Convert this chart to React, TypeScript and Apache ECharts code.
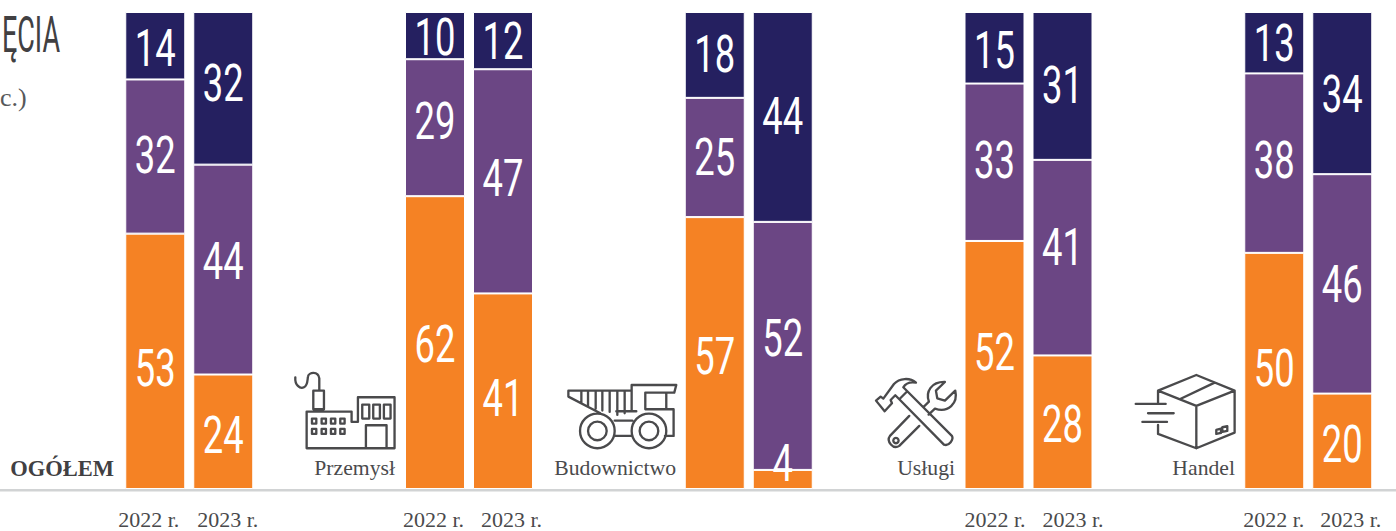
import React, { useEffect, useRef } from "react";
import * as echarts from "echarts";

const years = ["2022 r.", "2023 r."];
const sectors = ["OGÓŁEM", "Przemysł", "Budownictwo", "Usługi", "Handel"];
// [2022, 2023] per sector
const orangeValues = [[53, 24], [62, 41], [57, 4], [52, 28], [50, 20]];
const purpleValues = [[32, 44], [29, 47], [25, 52], [33, 41], [38, 46]];
const navyValues = [[14, 32], [10, 12], [18, 44], [15, 31], [13, 34]];

const COLORS = { orange: "#f58224", purple: "#6b4684", navy: "#252060", ink: "#4a4a4c" };
const GROUP_PITCH = 279.75;
const GRID_LEFT = 121.25;
const GRID_TOP = 12;
const GRID_H = 477;

// pixel nudges of the value labels from the segment centres: [orange, purple, navy]
const labelNudge = [
  [[7, -1.5, 2.5], [3, -8.5, -5]],
  [[1.5, -6.5, 1.5], [6.5, -3.5, 0.5]],
  [[3, -0.5, -1], [-16, -8, -1]],
  [[-13, -2, 2.5], [2, -11, -1]],
  [[-3, -3, 0.5], [2.5, 0, 1]],
];
// horizontal shift of the year labels per sector: [2022, 2023]
const yearShift = [[-6.5, 4.5], [-1.5, 8.5], [0, 0], [0.5, 10.5], [-0.5, 8.5]];
const labelFonts = { fontFamily: "Roboto", fontSize: 52 };

const factory =
  "M46 82 C44 105 60 118 72 112 C84 106 82 90 84 80 C86 66 115 62 118 85 L118 122 " +
  "M100 122 H132 V178 H100 Z " +
  "M80 185 H215 V216 H234 V142 H344 V295 H80 Z " +
  "M247 164 H268 V206 H247 Z M280 164 H300 V206 H280 Z M312 164 H332 V206 H312 Z " +
  "M258 226 H320 V295 H258 Z " +
  "M96 206 H109 V221 H96 Z M125 206 H138 V221 H125 Z M153 206 H166 V221 H153 Z M181 206 H194 V221 H181 Z " +
  "M96 237 H109 V252 H96 Z M125 237 H138 V252 H125 Z M153 237 H166 V252 H153 Z M181 237 H194 V252 H181 Z";
const truck =
  "M866 122 H1056 M866 122 V140 L962 190 " +
  "M905 122 V158 M925 122 V168 M948 122 V176 M968 122 V182 M990 122 V186 M1013 122 V195 M1035 122 V190 M1056 122 V182 " +
  "M1056 122 V105 H1190 L1184 128 H1097 V178 H1160 V128 M1097 178 H1182 V258 H1156 " +
  "M1010 184 H1070 M1005 212 H1058 M1005 258 H1058 " +
  "M1005 243 A52 52 0 1 1 901 243 A52 52 0 1 1 1005 243 Z " +
  "M981 243 A28 28 0 1 1 925 243 A28 28 0 1 1 981 243 Z " +
  "M1160 243 A52 52 0 1 1 1056 243 A52 52 0 1 1 1160 243 Z " +
  "M1136 243 A28 28 0 1 1 1080 243 A28 28 0 1 1 1136 243 Z";
const tools =
  "M48 152 L62 140 L70 146 L102 102 C118 84 150 82 168 98 C150 95 136 102 130 112 L142 124 L118 148 L106 136 L92 150 L96 160 L74 184 Z " +
  "M142 124 L276 258 C282 268 268 290 252 284 L118 148 " +
  "M148 198 L90 258 C78 274 100 300 118 288 L178 228 " +
  "M190 172 L207 155 C196 125 215 95 255 96 L228 122 L232 145 L255 152 L286 122 C295 160 265 190 225 176 L206 194 " +
  "M108 264 A8 8 0 1 1 107.9 264 Z";
const box =
  "M895 122 L1010 75 L1125 122 L1010 168 Z M960 148 L1065 98 " +
  "M1125 122 V248 L1010 295 V168 M895 122 V158 M895 225 V252 L1010 295 " +
  "M828 162 H918 M865 190 H942 M848 216 H922 " +
  "M1070 240 L1084 236 V249 L1070 252 Z M1088 232 L1103 229 V243 L1088 246 Z";

echarts.graphic.registerShape("iconFactory", echarts.graphic.extendPath(factory, {}));
echarts.graphic.registerShape("iconTruck", echarts.graphic.extendPath(truck, {}));
echarts.graphic.registerShape("iconTools", echarts.graphic.extendPath(tools, {}));
echarts.graphic.registerShape("iconBox", echarts.graphic.extendPath(box, {}));

function buildOption() {
  const grid: any[] = [];
  const xAxis: any[] = [];
  const yAxis: any[] = [];
  const series: any[] = [];

  sectors.forEach((_, g) => {
    grid.push({
      left: GRID_LEFT + GROUP_PITCH * g,
      top: GRID_TOP,
      width: 136,
      height: GRID_H,
      containLabel: false,
      outerBoundsMode: "none",
    });
    xAxis.push({
      type: "category",
      gridIndex: g,
      data: years.map((y, k) => {
        const d = yearShift[g][k];
        return {
          value: y,
          textStyle: { padding: d >= 0 ? [0, 0, 0, 2 * d] : [0, -2 * d, 0, 0] },
        };
      }),
      axisLine: { show: false },
      axisTick: { show: false },
      axisLabel: {
        show: g !== 2,
        interval: 0,
        margin: 21.5,
        lineHeight: 18,
        color: COLORS.ink,
        fontFamily: "Liberation Serif",
        fontSize: 22,
      },
    });
    yAxis.push({ type: "value", gridIndex: g, min: 0, max: 100, show: false });

    const layers = [
      { name: "orange", values: orangeValues[g], color: COLORS.orange },
      { name: "purple", values: purpleValues[g], color: COLORS.purple },
      { name: "navy", values: navyValues[g], color: COLORS.navy },
    ];
    const totals = [0, 1].map((k) => layers.reduce((s, l) => s + l.values[k], 0));

    layers.forEach((l) => {
      series.push({
        type: "bar",
        name: `${sectors[g]} ${l.name}`,
        xAxisIndex: g,
        yAxisIndex: g,
        stack: `s${g}`,
        barWidth: 60,
        data: l.values.map((v, k) => (v / totals[k]) * 100),
        itemStyle: { color: l.color, borderColor: "#fff", borderWidth: 1 },
        silent: true,
      });
    });

    // value labels, condensed by a horizontal scale
    const labelData: number[][] = [];
    [0, 1].forEach((k) => {
      let base = 0;
      layers.forEach((l, li) => {
        const h = (l.values[k] / totals[k]) * 100;
        labelData.push([k, base + h / 2, l.values[k], labelNudge[g][k][li]]);
        base += h;
      });
    });
    series.push({
      type: "custom",
      xAxisIndex: g,
      yAxisIndex: g,
      silent: true,
      z: 5,
      data: labelData,
      encode: { x: 0, y: 1 },
      renderItem: (_p: any, api: any) => {
        const pt = api.coord([api.value(0), api.value(1)]);
        return {
          type: "text",
          x: pt[0],
          y: pt[1] + api.value(3),
          scaleX: 0.7,
          style: {
            text: String(api.value(2)),
            fill: "#fff",
            align: "center",
            verticalAlign: "middle",
            ...labelFonts,
          },
        };
      },
    });
  });

  const captions = [
    { text: "Przemysł", right: 395 },
    { text: "Budownictwo", right: 676 },
    { text: "Usługi", right: 955 },
    { text: "Handel", right: 1235 },
  ];
  const icon = (type: string, x: number, y: number) => ({
    type,
    x,
    y,
    scaleX: 1 / 3,
    scaleY: 1 / 3,
    style: { fill: "none", stroke: "#4a4a4c", lineWidth: 7, lineJoin: "round", lineCap: "round" },
  });

  return {
    animation: false,
    backgroundColor: "#fff",
    grid,
    xAxis,
    yAxis,
    series,
    graphic: [
      { type: "rect", x: 0, y: 489, shape: { width: 1396, height: 2.5 }, style: { fill: "#d1d3d4" }, z: 1 },
      {
        type: "text",
        x: 60,
        y: 35,
        scaleX: 0.54,
        style: {
          text: "ĘCIA",
          fill: "#414042",
          align: "right",
          verticalAlign: "middle",
          fontFamily: "Roboto",
          fontSize: 50,
        },
      },
      {
        type: "text",
        x: 0,
        y: 97,
        style: {
          text: "c.)",
          fill: "#58595b",
          align: "left",
          verticalAlign: "middle",
          fontFamily: "Liberation Serif",
          fontSize: 26,
        },
      },
      {
        type: "text",
        x: 114,
        y: 468,
        style: {
          text: sectors[0],
          fill: "#414042",
          align: "right",
          verticalAlign: "middle",
          fontFamily: "Liberation Serif",
          fontWeight: "bold",
          fontSize: 22.5,
        },
      },
      ...captions.map((c) => ({
        type: "text",
        x: c.right,
        y: 468,
        style: {
          text: c.text,
          fill: COLORS.ink,
          align: "right",
          verticalAlign: "middle",
          fontFamily: "Liberation Serif",
          fontSize: 21.7,
        },
      })),
      icon("iconFactory", 280, 350),
      icon("iconTruck", 280, 350),
      icon("iconTools", 860, 350),
      icon("iconBox", 860, 350),
    ],
  };
}

export default function App() {
  const ref = useRef<HTMLDivElement>(null);
  useEffect(() => {
    const chart = echarts.init(ref.current!, undefined, { renderer: "svg" });
    chart.setOption(buildOption() as any);
    return () => chart.dispose();
  }, []);
  return <div ref={ref} style={{ position: "absolute", left: 0, top: 0, width: 1396, height: 531 }} />;
}
